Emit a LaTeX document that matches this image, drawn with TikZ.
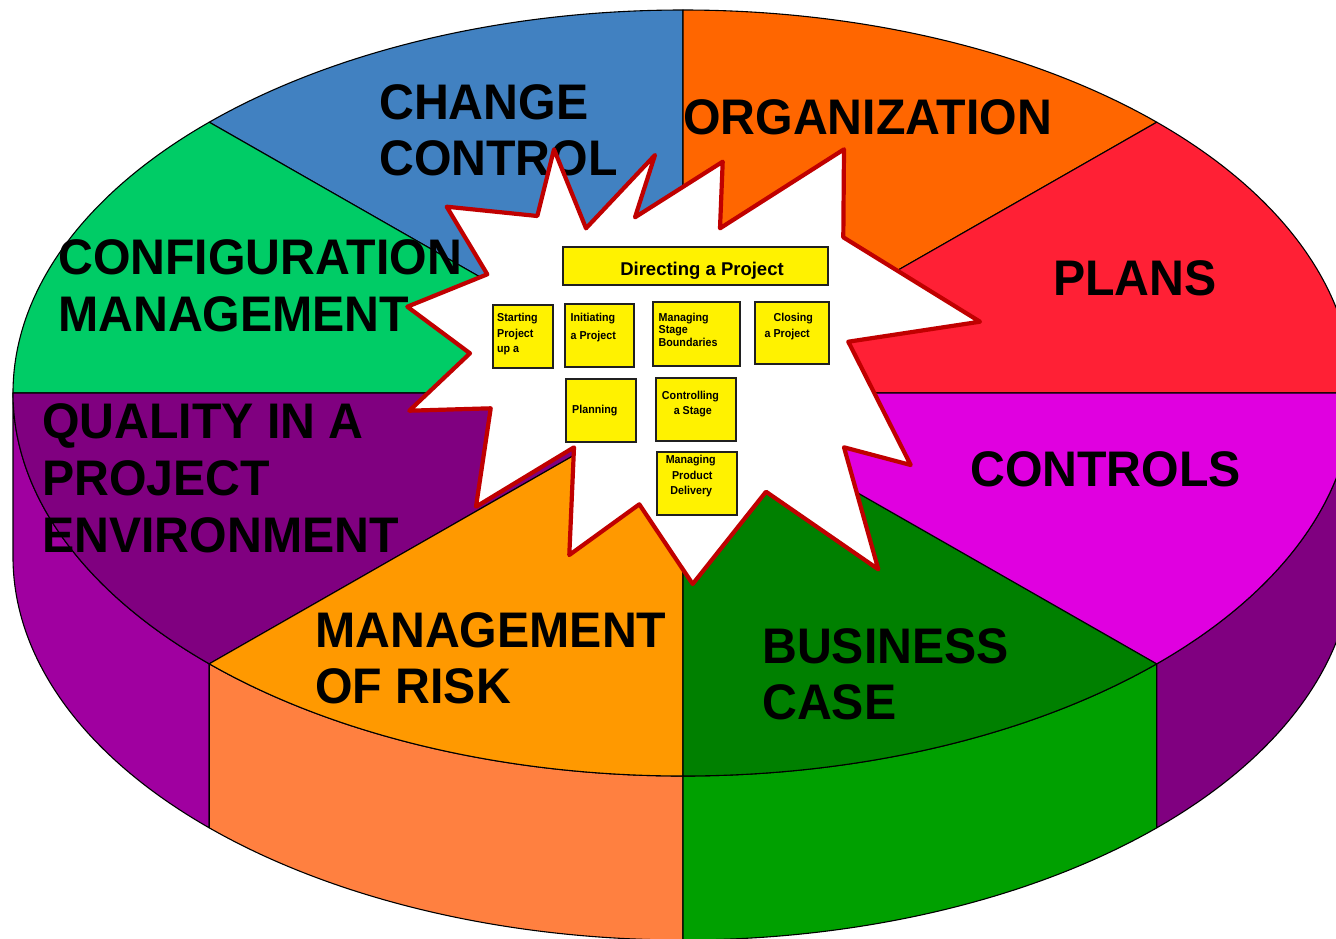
\documentclass[tikz,border=0pt]{standalone}
\usepackage{fontspec}
\setmainfont{Liberation Sans}
\newfontfamily\lblfont{Liberation Sans}[FakeStretch=0.965]
\newfontfamily\boxfont{Liberation Sans}[FakeStretch=0.93]
\usetikzlibrary{calc}
\definecolor{ccblue}{HTML}{4181C1}
\definecolor{orgorange}{HTML}{FF6600}
\definecolor{plansred}{HTML}{FF2035}
\definecolor{cfggreen}{HTML}{00CC66}
\definecolor{qualtop}{HTML}{800080}
\definecolor{qualside}{HTML}{A000A0}
\definecolor{risktop}{HTML}{FF9900}
\definecolor{riskside}{HTML}{FF8040}
\definecolor{bustop}{HTML}{008000}
\definecolor{busside}{HTML}{00A000}
\definecolor{ctltop}{HTML}{E000E0}
\definecolor{ctlside}{HTML}{800080}
\definecolor{burstred}{HTML}{C00000}
\definecolor{boxedge}{HTML}{202020}
\tikzset{
  pieedge/.style={draw=black, line width=1.1pt, line join=round},
  burst/.style={draw=burstred, fill=white, line width=4.2pt, line join=round},
  pbox/.style={draw=boxedge, fill=yellow, line width=1.8pt, rectangle, inner sep=0pt},
  biglbl/.style={anchor=base west, inner sep=0pt, font=\lblfont\bfseries\fontsize{50pt}{55pt}\selectfont},
  stext/.style={anchor=base west, inner sep=0pt, font=\boxfont\bfseries\fontsize{11.5pt}{12pt}\selectfont},
  ctext/.style={stext, anchor=base},
  dtext/.style={anchor=base, inner sep=0pt, font=\bfseries\fontsize{18.5pt}{20pt}\selectfont}
}
\newcommand\topslice[3]{%
  \filldraw[pieedge, fill=#3] (C) -- ($(C)+(#1:670 and 383)$)
    arc[start angle=#1, end angle=#2, x radius=670, y radius=383] -- cycle;}
\newcommand\sideband[3]{%
  \filldraw[pieedge, fill=#3] ($(C)+(#1:670 and 383)$)
    arc[start angle=#1, end angle=#2, x radius=670, y radius=383]
    -- ($(D)+(#2:670 and 383)$)
    arc[start angle=#2, end angle=#1, x radius=670, y radius=383] -- cycle;}
\begin{document}
\begin{tikzpicture}[x=1pt,y=-1pt]
\useasboundingbox (0,0) rectangle (1336,938);
\clip (0,0) rectangle (1336,938);
\coordinate (C) at (683,393);
\coordinate (D) at (683,557);
% side bands
\sideband{135}{180}{qualside}
\sideband{90}{135}{riskside}
\sideband{45}{90}{busside}
\sideband{0}{45}{ctlside}
% top slices
\topslice{225}{270}{ccblue}
\topslice{270}{315}{orgorange}
\topslice{315}{360}{plansred}
\topslice{180}{225}{cfggreen}
\topslice{135}{180}{qualtop}
\topslice{90}{135}{risktop}
\topslice{45}{90}{bustop}
\topslice{0}{45}{ctltop}
% labels
\node[biglbl] (cc1) at (379,119) {CHANGE};
\node[biglbl] (cc2) at (379,175) {CONTROL};
\node[biglbl] (org) at (683,134) {ORGANIZATION};
\node[biglbl] (cfg1) at (58,274) {CONFIGURATION};
\node[biglbl] (cfg2) at (58,331) {MANAGEMENT};
\node[biglbl] (pln) at (1053,295) {PLANS};
\node[biglbl] (q1) at (42,438.5) {QUALITY IN A};
\node[biglbl] (q2) at (42,495) {PROJECT};
\node[biglbl] (q3) at (42,552) {ENVIRONMENT};
\node[biglbl] (ctl) at (970,486) {CONTROLS};
\node[biglbl] (rk1) at (315,647) {MANAGEMENT};
\node[biglbl] (rk2) at (315,703) {OF RISK};
\node[biglbl] (bc1) at (762,663) {BUSINESS};
\node[biglbl] (bc2) at (762,719) {CASE};
% starburst
\filldraw[burst] (446.7,206.7) -- (537.3,216) -- (554,149.3) -- (586,228.3)
  -- (655,155) -- (635,217.3) -- (722.7,161.7) -- (720,228.3) -- (844,149.3)
  -- (843.3,237.3) -- (980,321.7) -- (848.3,341.7) -- (910.7,465)
  -- (844,447.3) -- (878.3,569.3) -- (766,491.7) -- (692.7,584)
  -- (639.3,504.3) -- (569.3,555) -- (574,447.3) -- (476,506.7)
  -- (490.7,408.3) -- (409.3,410.7) -- (470,353.3) -- (407.3,306.7)
  -- (487.3,274.3) -- cycle;
% process boxes
\node[pbox, minimum width=265pt, minimum height=37.7pt] (dir) at (695.8,266.2) {};
\node[pbox, minimum width=59.4pt, minimum height=63.3pt] (sup) at (523,336.7) {};
\node[pbox, minimum width=69.3pt, minimum height=63pt] (ip) at (599.7,335.8) {};
\node[pbox, minimum width=86.4pt, minimum height=63.4pt] (msb) at (696.5,334) {};
\node[pbox, minimum width=74pt, minimum height=62.6pt] (cp) at (792.3,333) {};
\node[pbox, minimum width=69.4pt, minimum height=62.7pt] (pl) at (601,410.7) {};
\node[pbox, minimum width=80pt, minimum height=63pt] (cs) at (696,409.8) {};
\node[pbox, minimum width=80.3pt, minimum height=62.7pt] (mpd) at (696.8,483.7) {};
% box texts
\node[dtext] (dirt) at (702,275) {Directing a Project};
\node[stext] (supt1) at (497,321.7) {Starting};
\node[stext] (supt2) at (497,337.3) {Project};
\node[stext] (supt3) at (497,352.7) {up a};
\node[stext] (ipt1) at (570.5,321.7) {Initiating};
\node[stext] (ipt2) at (570.5,339) {a Project};
\node[stext] (msbt1) at (658.5,321.7) {Managing};
\node[stext] (msbt2) at (658.5,333.3) {Stage};
\node[stext] (msbt3) at (658.5,346) {Boundaries};
\node[ctext] (cpt1) at (793.3,321.7) {Closing};
\node[ctext] (cpt2) at (787.2,337.3) {a Project};
\node[stext] (plt) at (572,413.3) {Planning};
\node[ctext] (cst1) at (690.5,399.3) {Controlling};
\node[ctext] (cst2) at (692.8,414.3) {a Stage};
\node[ctext] (mpdt1) at (690.7,463.3) {Managing};
\node[ctext] (mpdt2) at (692.3,479) {Product};
\node[ctext] (mpdt3) at (691.3,494) {Delivery};
\end{tikzpicture}
\end{document}
